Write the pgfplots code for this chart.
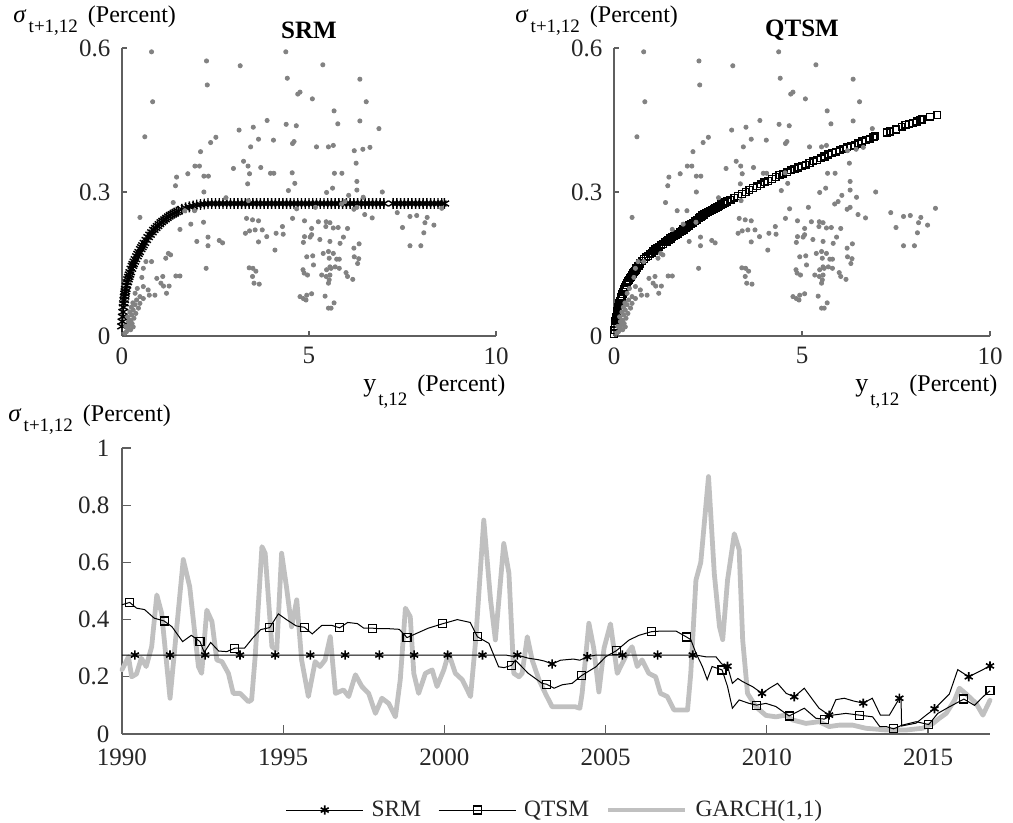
\documentclass[border=0pt]{standalone}
\usepackage{fontspec}
\setmainfont{Liberation Serif}
\usepackage{pgfplots}
\usepackage{pgfplotstable}
\pgfplotsset{compat=1.18}
\definecolor{axgray}{RGB}{95,95,95}
\definecolor{txtgray}{RGB}{38,38,38}
\definecolor{dotgray}{RGB}{130,130,130}
\definecolor{garchgray}{RGB}{192,192,192}

\newcommand{\sig}{{\fontsize{12.5}{14}\selectfont\itshape σ}\kern1.5pt\raisebox{-5pt}{\fontsize{9.5}{11}\selectfont t+1,12}\kern5pt{\fontsize{12}{14}\selectfont (Percent)}}
\newcommand{\ylab}{{\fontsize{13}{14}\selectfont y}\kern1pt\raisebox{-7pt}{\fontsize{9.5}{11}\selectfont t,12}\kern5pt{\fontsize{12}{14}\selectfont (Percent)}}

% gray scatter: realized volatility vs yield
\pgfplotstableread{
x y
0.79 0.592
0.82 0.488
0.61 0.415
0.48 0.247
2.26 0.573
2.28 0.523
3.16 0.563
4.38 0.592
4.42 0.537
5.37 0.565
6.36 0.535
4.76 0.508
4.70 0.504
5.09 0.494
6.53 0.488
5.67 0.469
3.88 0.449
3.13 0.429
3.51 0.435
4.39 0.441
4.66 0.438
6.36 0.448
5.77 0.442
6.87 0.432
2.51 0.414
2.37 0.403
2.10 0.384
3.65 0.410
4.05 0.408
3.44 0.394
4.60 0.405
4.56 0.401
5.20 0.394
5.52 0.394
5.65 0.397
6.21 0.386
6.44 0.389
6.63 0.393
6.26 0.360
6.28 0.322
6.28 0.304
1.95 0.354
2.07 0.354
1.76 0.338
1.46 0.331
2.19 0.333
2.31 0.333
2.98 0.349
3.25 0.364
3.37 0.354
3.71 0.351
3.97 0.339
4.06 0.339
3.41 0.338
3.36 0.317
4.55 0.340
4.62 0.318
5.68 0.339
5.88 0.339
5.63 0.308
5.47 0.299
6.96 0.300
1.43 0.313
2.19 0.300
4.45 0.303
6.06 0.293
2.78 0.288
6.45 0.289
3.38 0.282
5.96 0.280
5.87 0.275
1.37 0.278
1.68 0.261
1.94 0.261
2.18 0.237
1.84 0.233
1.55 0.222
4.67 0.265
5.17 0.268
6.28 0.268
6.20 0.264
6.49 0.253
6.69 0.246
7.36 0.257
7.70 0.249
7.88 0.251
8.16 0.247
7.50 0.226
8.10 0.236
8.34 0.231
8.07 0.215
7.70 0.188
7.99 0.188
8.55 0.266
3.33 0.245
3.49 0.242
3.65 0.240
3.30 0.214
3.41 0.219
3.56 0.221
3.75 0.221
3.65 0.196
3.87 0.207
4.12 0.214
4.31 0.212
4.29 0.228
4.09 0.179
4.56 0.245
4.88 0.240
5.07 0.224
5.25 0.238
5.46 0.238
5.45 0.228
5.56 0.236
5.65 0.225
5.78 0.226
6.03 0.224
5.92 0.206
5.83 0.193
6.34 0.192
6.20 0.183
4.88 0.207
4.85 0.195
5.03 0.206
5.07 0.211
5.29 0.201
5.56 0.197
5.65 0.172
4.94 0.165
5.10 0.167
5.38 0.172
5.54 0.162
5.52 0.176
5.74 0.160
5.81 0.160
6.21 0.165
6.33 0.161
6.30 0.151
5.12 0.148
4.84 0.138
4.87 0.131
4.96 0.127
5.56 0.144
5.47 0.138
5.59 0.141
5.70 0.144
5.81 0.141
5.56 0.127
5.34 0.127
5.46 0.124
5.52 0.110
5.54 0.117
6.03 0.124
6.17 0.118
5.99 0.132
3.40 0.142
3.50 0.141
3.58 0.135
3.49 0.124
3.53 0.110
3.67 0.108
4.76 0.082
4.85 0.078
4.92 0.075
5.07 0.088
4.94 0.085
5.43 0.083
5.67 0.069
5.52 0.058
5.59 0.058
2.25 0.141
2.30 0.206
2.30 0.188
2.60 0.199
2.69 0.194
2.00 0.197
1.55 0.125
1.44 0.125
1.17 0.162
1.24 0.172
1.30 0.169
1.09 0.124
1.04 0.110
1.11 0.104
1.26 0.104
1.19 0.089
0.93 0.120
0.70 0.096
0.73 0.085
0.88 0.085
0.79 0.155
0.64 0.155
0.57 0.141
0.53 0.122
0.57 0.103
0.48 0.082
0.39 0.075
0.35 0.065
0.30 0.054
0.26 0.044
0.23 0.033
0.20 0.023
0.17 0.016
0.12 0.009
0.08 0.006
0.29 0.069
0.44 0.058
0.37 0.047
0.32 0.037
0.27 0.026
0.48 0.068
0.57 0.078
0.35 0.089
0.41 0.099
0.17 0.030
0.21 0.050
0.30 0.019
0.23 0.013
0.15 0.040
0.10 0.020
0.25 0.060
}\scatterdata

% SRM implied volatility vs yield
\pgfplotstableread{
x y
0.00 0.020
0.01 0.030
0.02 0.040
0.03 0.050
0.04 0.060
0.05 0.068
0.06 0.075
0.07 0.082
0.08 0.088
0.09 0.093
0.10 0.098
0.12 0.105
0.14 0.112
0.16 0.118
0.18 0.123
0.20 0.128
0.22 0.133
0.25 0.140
0.28 0.146
0.30 0.150
0.33 0.155
0.36 0.160
0.40 0.166
0.43 0.171
0.46 0.175
0.50 0.181
0.53 0.185
0.56 0.189
0.60 0.194
0.65 0.200
0.70 0.206
0.75 0.211
0.80 0.216
0.85 0.221
0.90 0.225
0.95 0.229
1.00 0.233
1.05 0.237
1.10 0.240
1.15 0.243
1.20 0.246
1.25 0.249
1.30 0.252
1.35 0.254
1.40 0.256
1.45 0.258
1.50 0.260
1.60 0.264
1.70 0.267
1.80 0.269
1.90 0.271
2.00 0.273
2.10 0.274
2.20 0.275
2.30 0.276
2.40 0.276
2.50 0.276
2.60 0.276
2.70 0.276
2.80 0.276
2.90 0.276
3.00 0.276
3.10 0.276
3.20 0.276
3.30 0.276
3.40 0.276
3.50 0.276
3.60 0.276
3.70 0.276
3.80 0.276
3.90 0.276
4.00 0.276
4.10 0.276
4.20 0.276
4.30 0.276
4.40 0.276
4.50 0.276
4.60 0.276
4.70 0.276
4.80 0.276
4.90 0.276
5.00 0.276
5.10 0.276
5.20 0.276
5.30 0.276
5.40 0.276
5.50 0.276
5.60 0.276
5.70 0.276
5.80 0.276
5.90 0.276
6.00 0.276
6.10 0.276
6.20 0.276
6.30 0.276
6.40 0.276
6.50 0.276
6.60 0.276
6.70 0.276
6.80 0.276
6.90 0.276
7.00 0.276
7.25 0.276
7.35 0.276
7.45 0.276
7.55 0.276
7.65 0.276
7.75 0.276
7.85 0.276
7.95 0.276
8.05 0.276
8.15 0.276
8.25 0.276
8.35 0.276
8.45 0.276
8.55 0.276
8.62 0.276
}\srmcurve

% QTSM implied volatility vs yield
\pgfplotstableread{
x y
0.00 0.004
0.01 0.012
0.02 0.020
0.03 0.026
0.04 0.032
0.05 0.036
0.06 0.040
0.07 0.044
0.08 0.048
0.09 0.052
0.10 0.055
0.115 0.060
0.13 0.064
0.145 0.069
0.16 0.073
0.18 0.078
0.20 0.082
0.225 0.087
0.25 0.092
0.275 0.097
0.30 0.102
0.325 0.106
0.35 0.110
0.375 0.114
0.40 0.117
0.425 0.120
0.45 0.123
0.475 0.127
0.50 0.130
0.525 0.133
0.55 0.135
0.575 0.138
0.60 0.141
0.65 0.146
0.70 0.151
0.75 0.156
0.80 0.160
0.85 0.164
0.90 0.167
0.95 0.170
1.00 0.173
1.05 0.177
1.10 0.180
1.15 0.183
1.20 0.186
1.25 0.189
1.30 0.192
1.35 0.195
1.40 0.197
1.45 0.200
1.50 0.203
1.55 0.206
1.60 0.208
1.65 0.211
1.70 0.213
1.75 0.216
1.80 0.219
1.85 0.222
1.90 0.225
1.95 0.228
2.00 0.230
2.05 0.233
2.10 0.236
2.15 0.239
2.20 0.242
2.25 0.245
2.30 0.248
2.35 0.251
2.40 0.253
2.45 0.256
2.50 0.258
2.55 0.260
2.60 0.262
2.65 0.265
2.70 0.267
2.75 0.269
2.80 0.271
2.85 0.274
2.90 0.276
2.95 0.278
3.00 0.280
3.10 0.284
3.20 0.288
3.30 0.292
3.40 0.296
3.50 0.300
3.60 0.304
3.70 0.308
3.80 0.312
3.90 0.316
4.00 0.320
4.10 0.323
4.20 0.327
4.30 0.331
4.40 0.335
4.50 0.338
4.60 0.341
4.70 0.345
4.80 0.348
4.90 0.351
5.00 0.354
5.10 0.357
5.20 0.360
5.30 0.364
5.40 0.367
5.50 0.370
5.60 0.374
5.70 0.378
5.80 0.381
5.90 0.384
6.00 0.387
6.10 0.390
6.20 0.393
6.30 0.395
6.40 0.398
6.50 0.401
6.60 0.405
6.70 0.408
6.80 0.411
6.90 0.414
6.95 0.416
7.25 0.424
7.35 0.426
7.50 0.430
7.65 0.436
7.75 0.440
7.85 0.442
7.95 0.444
8.05 0.447
8.15 0.450
8.20 0.451
8.40 0.457
8.60 0.460
}\qtsmcurve

% time series
\pgfplotstableread{
t v
1990.00 0.276
2001.90 0.276
2002.10 0.272
2002.26 0.276
2002.60 0.265
2002.90 0.260
2003.10 0.255
2003.34 0.245
2003.60 0.258
2004.00 0.262
2004.20 0.258
2004.43 0.270
2004.70 0.276
2007.80 0.276
2008.10 0.270
2008.42 0.270
2008.60 0.245
2008.78 0.237
2008.93 0.177
2009.10 0.194
2009.25 0.183
2009.55 0.166
2009.85 0.142
2010.08 0.160
2010.33 0.177
2010.60 0.142
2010.85 0.130
2011.16 0.160
2011.42 0.120
2011.62 0.090
2011.93 0.066
2012.14 0.120
2012.40 0.125
2012.70 0.115
2012.99 0.108
2013.27 0.125
2013.52 0.066
2013.80 0.066
2014.11 0.125
2014.16 0.125
2014.18 0.028
2014.63 0.038
2014.94 0.066
2015.20 0.088
2015.66 0.140
2015.92 0.225
2016.26 0.200
2016.70 0.225
2016.92 0.238
}\srmts

\pgfplotstableread{
t v
1990.40 0.276
1991.49 0.276
1992.58 0.276
1993.66 0.276
1994.75 0.276
1995.84 0.276
1996.92 0.276
1997.98 0.276
1999.06 0.276
2000.10 0.276
2001.18 0.276
2002.26 0.276
2003.34 0.245
2004.43 0.270
2005.52 0.276
2006.61 0.276
2007.70 0.276
2008.78 0.237
2009.85 0.142
2010.85 0.130
2011.93 0.066
2012.99 0.108
2014.11 0.125
2015.20 0.088
2016.26 0.200
2016.92 0.238
}\srmmarks

\pgfplotstableread{
t v
1990.00 0.452
1990.24 0.460
1990.45 0.440
1990.70 0.435
1991.00 0.405
1991.31 0.395
1991.55 0.375
1991.88 0.323
1992.15 0.345
1992.42 0.323
1992.55 0.285
1992.75 0.320
1993.00 0.290
1993.25 0.288
1993.50 0.300
1993.80 0.300
1994.05 0.335
1994.30 0.365
1994.58 0.372
1994.85 0.420
1995.10 0.400
1995.40 0.378
1995.66 0.373
1995.90 0.350
1996.20 0.380
1996.50 0.380
1996.75 0.371
1997.00 0.390
1997.30 0.386
1997.50 0.370
1997.76 0.370
1998.00 0.368
1998.30 0.368
1998.60 0.366
1998.84 0.337
1999.10 0.350
1999.50 0.370
1999.93 0.385
2000.40 0.400
2000.80 0.390
2001.02 0.340
2001.38 0.317
2001.68 0.235
2001.85 0.232
2002.08 0.240
2002.20 0.258
2002.60 0.212
2003.03 0.177
2003.17 0.174
2003.40 0.160
2003.65 0.172
2003.96 0.177
2004.25 0.204
2004.70 0.235
2005.00 0.270
2005.33 0.291
2005.72 0.328
2006.03 0.345
2006.43 0.358
2006.76 0.360
2007.18 0.360
2007.51 0.339
2007.64 0.330
2007.80 0.283
2008.00 0.236
2008.15 0.190
2008.30 0.236
2008.61 0.224
2008.78 0.166
2008.93 0.090
2009.14 0.119
2009.45 0.107
2009.68 0.101
2009.97 0.107
2010.28 0.096
2010.69 0.063
2011.16 0.090
2011.52 0.055
2011.78 0.052
2012.04 0.066
2012.45 0.072
2012.87 0.066
2013.28 0.060
2013.50 0.026
2013.70 0.026
2013.93 0.018
2014.20 0.031
2014.63 0.043
2015.02 0.033
2015.30 0.072
2015.66 0.095
2016.11 0.122
2016.44 0.100
2016.70 0.130
2016.92 0.151
}\qtsmts

\pgfplotstableread{
t v
1990.24 0.460
1991.31 0.395
1992.42 0.323
1993.50 0.300
1994.58 0.372
1995.66 0.373
1996.75 0.371
1997.76 0.370
1998.84 0.337
1999.93 0.385
2001.02 0.340
2002.08 0.240
2003.17 0.174
2004.25 0.204
2005.33 0.291
2006.43 0.358
2007.51 0.339
2008.61 0.224
2009.68 0.101
2010.69 0.063
2011.78 0.052
2012.87 0.066
2013.93 0.018
2015.02 0.033
2016.11 0.122
2016.92 0.151
}\qtsmmarks

\pgfplotstableread{
t v
1990.00 0.225
1990.20 0.270
1990.30 0.200
1990.45 0.210
1990.60 0.265
1990.75 0.236
1990.92 0.305
1991.08 0.486
1991.23 0.422
1991.49 0.125
1991.70 0.375
1991.90 0.610
1992.10 0.515
1992.37 0.236
1992.47 0.212
1992.63 0.433
1992.79 0.393
1992.94 0.259
1993.10 0.253
1993.30 0.212
1993.45 0.142
1993.66 0.142
1993.92 0.113
1994.02 0.119
1994.13 0.270
1994.34 0.655
1994.44 0.632
1994.65 0.305
1994.80 0.294
1994.95 0.632
1995.10 0.515
1995.26 0.375
1995.42 0.469
1995.57 0.259
1995.78 0.131
1995.99 0.253
1996.14 0.236
1996.30 0.259
1996.46 0.340
1996.62 0.142
1996.87 0.154
1997.03 0.131
1997.24 0.207
1997.44 0.166
1997.65 0.142
1997.86 0.072
1998.06 0.125
1998.27 0.107
1998.48 0.060
1998.63 0.190
1998.79 0.440
1998.94 0.410
1999.05 0.212
1999.20 0.142
1999.41 0.212
1999.62 0.224
1999.77 0.166
1999.98 0.224
2000.13 0.282
2000.34 0.212
2000.55 0.190
2000.81 0.131
2000.97 0.329
2001.22 0.748
2001.43 0.469
2001.58 0.329
2001.84 0.666
2002.00 0.562
2002.15 0.212
2002.31 0.200
2002.41 0.212
2002.57 0.340
2002.72 0.259
2002.93 0.190
2003.13 0.142
2003.34 0.095
2003.65 0.095
2004.06 0.095
2004.20 0.090
2004.27 0.142
2004.48 0.387
2004.63 0.300
2004.79 0.147
2004.95 0.300
2005.15 0.385
2005.36 0.212
2005.67 0.282
2005.82 0.305
2005.98 0.236
2006.13 0.259
2006.34 0.212
2006.55 0.200
2006.70 0.142
2006.91 0.131
2007.12 0.084
2007.38 0.084
2007.54 0.084
2007.64 0.212
2007.80 0.538
2007.95 0.600
2008.19 0.900
2008.37 0.560
2008.53 0.375
2008.63 0.330
2008.78 0.538
2008.99 0.700
2009.14 0.645
2009.25 0.329
2009.40 0.142
2009.66 0.095
2009.97 0.065
2010.28 0.060
2010.59 0.066
2010.80 0.049
2011.21 0.037
2011.62 0.043
2011.93 0.026
2012.25 0.031
2012.66 0.031
2013.07 0.020
2013.70 0.014
2014.32 0.014
2014.83 0.020
2015.15 0.037
2015.35 0.055
2015.56 0.072
2015.82 0.118
2015.97 0.160
2016.18 0.140
2016.49 0.107
2016.70 0.066
2016.92 0.118
}\garchts

\pgfplotsset{
  base/.style={
    scale only axis,
    anchor=south west,
    axis x line*=bottom, axis y line*=left,
    axis line style={axgray, line width=0.6pt, -},
    every tick/.style={axgray, line width=0.6pt},
    tick align=inside,
    ticklabel style={font=\fontsize{12.5}{14}\selectfont, text=txtgray},
    /pgf/number format/assume math mode=true,
    /pgf/number format/1000 sep={},
    clip=false,
  }
}

\begin{document}
\begin{tikzpicture}
\path[use as bounding box] (0,0) rectangle (506.5pt,411.5pt);

% ---------- SRM scatter ----------
\begin{axis}[base, at={(61pt,243.5pt)}, width=187pt, height=144pt,
  xmin=0, xmax=10, ymin=0, ymax=0.6,
  xtick={0,5,10}, ytick={0,0.3,0.6}, yticklabels={0,0.3,0.6},
  major tick length=2.3pt,
  xticklabel style={yshift=-4pt, inner sep=1.5pt}, yticklabel style={xshift=-2.3pt}]
\addplot[only marks, mark=asterisk, mark size=2.7pt, black, line width=0.7pt] table {\srmcurve};
\addplot[only marks, mark=*, mark size=1.05pt, draw=dotgray, fill=dotgray] table {\scatterdata};
\end{axis}

% ---------- QTSM scatter ----------
\begin{axis}[base, at={(307pt,243.5pt)}, width=188pt, height=144pt,
  xmin=0, xmax=10, ymin=0, ymax=0.6,
  xtick={0,5,10}, ytick={0,0.3,0.6}, yticklabels={0,0.3,0.6},
  major tick length=2.3pt,
  xticklabel style={yshift=-4pt, inner sep=1.5pt}, yticklabel style={xshift=-2.3pt}]
\addplot[only marks, mark=square, mark size=1.7pt, black, line width=0.7pt] table {\qtsmcurve};
\addplot[only marks, mark=*, mark size=1.05pt, draw=dotgray, fill=dotgray] table {\scatterdata};
\end{axis}

% ---------- time series ----------
\begin{axis}[base, at={(61pt,44.5pt)}, width=434pt, height=143pt,
  xmin=1990, xmax=2016.92, ymin=0, ymax=1,
  xtick={1990,1995,2000,2005,2010,2015},
  ytick={0,0.2,0.4,0.6,0.8,1}, yticklabels={0,0.2,0.4,0.6,0.8,1},
  major tick length=4.3pt,
  xticklabel style={yshift=-4pt}, yticklabel style={xshift=-2.8pt},
  legend columns=3,
  legend style={at={(axis description cs:0.5,-0.266)}, anchor=center, draw=none, fill=none,
    font=\fontsize{11.7}{13}\selectfont, text=txtgray,
    /tikz/every even column/.append style={column sep=6.5pt},
    /tikz/every odd column/.append style={column sep=2pt}},
  legend image code/.code={\draw[mark repeat=2,mark phase=2,#1] plot coordinates {(0pt,0pt) (19.25pt,0pt) (38.5pt,0pt)};}]
\addlegendimage{black, line width=0.5pt, mark=asterisk, mark size=2.3pt, mark options={line width=0.8pt}}
\addlegendentry{SRM}
\addlegendimage{black, line width=0.5pt, mark=square, mark size=2pt, mark options={line width=0.6pt}}
\addlegendentry{QTSM}
\addlegendimage{garchgray, line width=2.2pt}
\addlegendentry{GARCH(1,1)}
\addplot[forget plot, garchgray, line width=2.4pt, line join=round, line cap=round] table {\garchts};
\addplot[forget plot, black, line width=0.5pt] table {\qtsmts};
\addplot[forget plot, only marks, black, mark=square, mark size=2pt, line width=0.6pt] table {\qtsmmarks};
\addplot[forget plot, black, line width=0.5pt] table {\srmts};
\addplot[forget plot, only marks, black, mark=asterisk, mark size=2.3pt, line width=0.8pt] table {\srmmarks};
\end{axis}

% ---------- titles and labels ----------
\node[font=\fontsize{12.5}{14}\selectfont\bfseries, text=black] at (154.5pt,396.5pt) {SRM};
\node[font=\fontsize{12.5}{14}\selectfont\bfseries, text=black] at (401pt,396.5pt) {QTSM};
\node[anchor=base west, inner sep=0pt, text=black] at (6.5pt,400.25pt) {\sig};
\node[anchor=base west, inner sep=0pt, text=black] at (257.5pt,400.25pt) {\sig};
\node[anchor=base west, inner sep=0pt, text=black] at (4pt,200.5pt) {\sig};
\node[anchor=base west, inner sep=0pt, text=black] at (181.5pt,215.5pt) {\ylab};
\node[anchor=base west, inner sep=0pt, text=black] at (427.5pt,215.5pt) {\ylab};
\end{tikzpicture}
\end{document}
